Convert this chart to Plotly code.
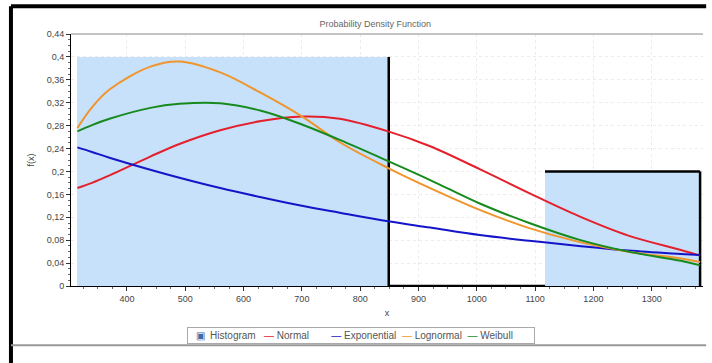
import plotly.graph_objects as go

# ---- data ----
bin_edges = [315, 849, 1117, 1383]
bin_heights = [0.40, 0.0, 0.20]

x_pts = [315, 340, 370, 440, 490, 560, 630, 700, 765, 848, 920, 1005, 1090, 1175, 1260, 1350, 1383]
normal = [0.171, 0.180, 0.193, 0.226, 0.248, 0.272, 0.288, 0.296, 0.292, 0.270, 0.244, 0.204, 0.162, 0.122, 0.088, 0.063, 0.053]
exponential = [0.242, 0.234, 0.224, 0.203, 0.189, 0.171, 0.155, 0.140, 0.128, 0.113, 0.102, 0.089, 0.079, 0.070, 0.062, 0.056, 0.054]
lognormal = [0.276, 0.312, 0.343, 0.383, 0.392, 0.373, 0.337, 0.296, 0.251, 0.206, 0.171, 0.133, 0.101, 0.077, 0.060, 0.048, 0.042]
weibull = [0.270, 0.281, 0.292, 0.311, 0.318, 0.319, 0.306, 0.282, 0.255, 0.218, 0.185, 0.144, 0.110, 0.081, 0.060, 0.044, 0.036]

y_ticks = [0, 0.04, 0.08, 0.12, 0.16, 0.2, 0.24, 0.28, 0.32, 0.36, 0.4, 0.44]
y_tick_text = ["0", "0,04", "0,08", "0,12", "0,16", "0,2", "0,24", "0,28", "0,32", "0,36", "0,4", "0,44"]
x_ticks = [400, 500, 600, 700, 800, 900, 1000, 1100, 1200, 1300]

FONT = "Liberation Sans, Arial, sans-serif"
HIST_COLOR = "#c6e1f9"
fig = go.Figure()

# histogram bars
centers = [(bin_edges[i] + bin_edges[i + 1]) / 2 for i in range(len(bin_heights))]
widths = [bin_edges[i + 1] - bin_edges[i] for i in range(len(bin_heights))]
fig.add_trace(go.Bar(
    x=centers, y=bin_heights, width=widths, name="Histogram",
    marker=dict(color=HIST_COLOR, line=dict(width=0)),
    showlegend=False,
))

# histogram outline (right edges, and tops except the first bin)
ox, oy = [], []
for i, h in enumerate(bin_heights):
    if i > 0:
        ox += [bin_edges[i], bin_edges[i + 1], None]
        oy += [h, h, None]
    ox += [bin_edges[i + 1], bin_edges[i + 1], None]
    oy += [h, 0, None]
fig.add_trace(go.Scatter(x=ox, y=oy, mode="lines", line=dict(color="black", width=2.5),
                         showlegend=False, hoverinfo="skip"))

series = [("Normal", normal, "#e4202c"), ("Exponential", exponential, "#1414c8"),
          ("Lognormal", lognormal, "#f0952c"), ("Weibull", weibull, "#178a1e")]
for name, vals, col in series:
    fig.add_trace(go.Scatter(x=x_pts, y=vals, mode="lines", name=name, showlegend=False,
                             line=dict(color=col, width=2, shape="spline", smoothing=1)))

fig.update_layout(
    width=712, height=363,
    margin=dict(l=71, r=9, t=34, b=77),
    paper_bgcolor="white", plot_bgcolor="white",
    font=dict(family=FONT, size=9, color="#444"),
    title=dict(text="Probability Density Function", x=0.527, xanchor="center", y=0.935, yanchor="middle",
               font=dict(size=9, color="#666")),
    bargap=0,
    showlegend=False,
    xaxis=dict(range=[304, 1388], tickvals=x_ticks, showline=True, linecolor="black", linewidth=1,
               ticks="outside", ticklen=4, tickcolor="#333", showgrid=True, gridcolor="#ececec",
               griddash="dot", zeroline=False, tickfont=dict(size=9, color="#444"),
               minor=dict(ticks="outside", ticklen=2, tickcolor="#666", dtick=25, showgrid=False),
               title=dict(text="x", font=dict(size=9, color="#444"), standoff=6)),
    yaxis=dict(range=[0, 0.44], tickvals=y_ticks, ticktext=y_tick_text, showline=True, linecolor="black",
               linewidth=1, ticks="outside", ticklen=4, tickcolor="#333", showgrid=True, gridcolor="#ececec",
               griddash="dot", zeroline=False, tickfont=dict(size=9, color="#444"),
               minor=dict(ticks="outside", ticklen=2, tickcolor="#666", dtick=0.01, showgrid=False),
               title=dict(text="f(x)", font=dict(size=9, color="#444"), standoff=10)),
)

# compact legend (as in the reference) built from the series names/colours
legend_text = "<span style='color:#3a6ea8'>▣</span>  Histogram"
for i, (name, _, col) in enumerate(series):
    legend_text += ("   " if i == 0 else ("        " if i == 1 else "  ")) + \
        f"<span style='color:{col}'>—</span> {name}"
fig.add_annotation(text="  " + legend_text + "       ", xref="paper", yref="paper", x=0.459, y=-0.198,
                   xanchor="center", yanchor="middle", showarrow=False,
                   font=dict(size=10, color="#555", family=FONT),
                   bordercolor="#aaa", borderwidth=1, borderpad=2, bgcolor="white")

# plot-area top border
fig.add_shape(type="line", xref="paper", yref="paper", x0=0, x1=1, y0=1, y1=1,
              line=dict(color="#888", width=1))
# outer frame: thick black left/top, grey bottom
fig.add_shape(type="line", xref="paper", yref="paper", x0=-0.095, x1=1.005, y0=1.11, y1=1.11,
              line=dict(color="black", width=4))
fig.add_shape(type="line", xref="paper", yref="paper", x0=-0.095, x1=-0.095, y0=1.11, y1=-0.31,
              line=dict(color="black", width=4))
fig.add_shape(type="line", xref="paper", yref="paper", x0=-0.095, x1=1.005, y0=-0.235, y1=-0.235,
              line=dict(color="#999", width=2))

fig.write_html("out.html")
